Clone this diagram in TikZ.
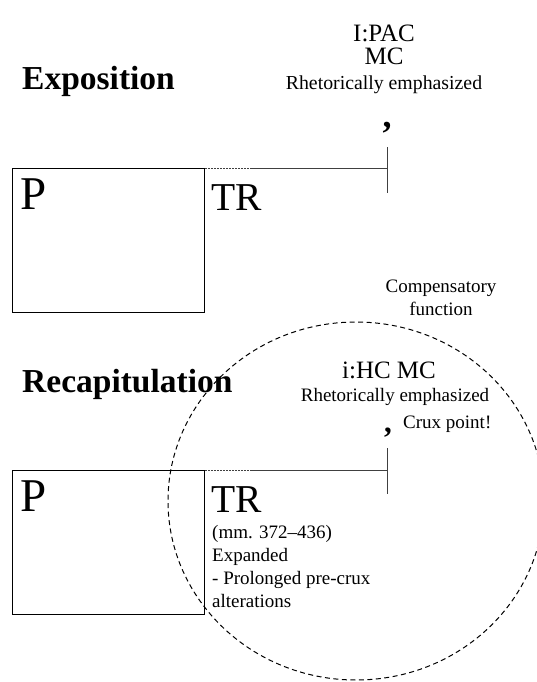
\documentclass[tikz,border=0pt]{standalone}
\usepackage{fontspec}
\setmainfont{Liberation Serif}
\usepackage{xcolor}

\tikzset{
	section/.style={anchor=base west,inner sep=0pt,font=\fontsize{33.5}{38}\selectfont\bfseries},
	theme/.style={anchor=base west,inner sep=0pt,font=\fontsize{47}{52}\selectfont},
	trans/.style={anchor=base west,inner sep=0pt,font=\fontsize{39.5}{44}\selectfont},
	cadence/.style={anchor=base,inner sep=0pt,font=\fontsize{25}{30}\selectfont},
	remark/.style={inner sep=0pt,font=\fontsize{19}{23}\selectfont},
	breath/.style={anchor=base,inner sep=0pt,font=\fontsize{36}{40}\selectfont\bfseries},
	pbox/.style={draw,line width=0.8pt,anchor=north west,minimum width=192pt,minimum height=144pt,inner sep=0pt},
	lead/.style={dash pattern=on 2pt off 1pt,line width=0.8pt,black!75},
	rail/.style={line width=0.8pt,black!75},
}

\begin{document}
\begin{tikzpicture}[x=1pt,y=-1pt]
	\useasboundingbox (0,0) rectangle (537,682) ;
	% exposition
	\node[section] (expo) at (22,90) {Exposition} ;
	\node[pbox] (pbox1) at (12,168) {} ;
	\node[theme] (p1) at (20,209) {P} ;
	\node[trans] (tr1) at (211,210) {TR} ;
	\node[cadence] (ipac) at (384,42) {I:PAC} ;
	\node[cadence] (mc1) at (384,65) {MC} ;
	\node[remark,anchor=base,font=\fontsize{19.8}{23}\selectfont] (rhet1) at (384,90) {Rhetorically emphasized} ;
	\node[breath] (comma1) at (387,128) {,} ;
	\coordinate (lead1) at (250,168) ;
	\coordinate (end1) at (387,168) ;
	\coordinate (ticktop1) at (387,147) ;
	\coordinate (tickbot1) at (387,193) ;
	\draw[lead] (pbox1.north east) -- (lead1) ;
	\draw[rail] (lead1) -- (end1) ;
	\draw[rail] (ticktop1) -- (tickbot1) ;
	% recapitulation
	\node[section] (recap) at (22,392) {Recapitulation} ;
	\node[pbox] (pbox2) at (12,470) {} ;
	\node[theme] (p2) at (20,511) {P} ;
	\node[trans] (tr2) at (211,512) {TR} ;
	\node[remark,anchor=north west,align=left] (trnote) at (212,525) {(mm. 372--436)\\Expanded\\- Prolonged pre-crux\\alterations} ;
	\node[remark,anchor=north,align=center] (comp) at (441,280) {Compensatory\\function} ;
	\node[cadence] (ihc) at (389,378) {i:HC MC} ;
	\node[remark,anchor=base] (rhet2) at (395,401) {Rhetorically emphasized} ;
	\node[breath,font=\fontsize{31}{36}\selectfont\bfseries] (comma2) at (388,432) {,} ;
	\node[remark,anchor=base west] (crux) at (403,428) {Crux point!} ;
	\coordinate (lead2) at (250,470) ;
	\coordinate (end2) at (387,470) ;
	\coordinate (ticktop2) at (387,448) ;
	\coordinate (tickbot2) at (387,494) ;
	\draw[lead] (pbox2.north east) -- (lead2) ;
	\draw[rail] (lead2) -- (end2) ;
	\draw[rail] (ticktop2) -- (tickbot2) ;
	\draw[dash pattern=on 5pt off 3.5pt,line width=1pt] (356,501) ellipse [x radius=188, y radius=179] ;
\end{tikzpicture}
\end{document}
